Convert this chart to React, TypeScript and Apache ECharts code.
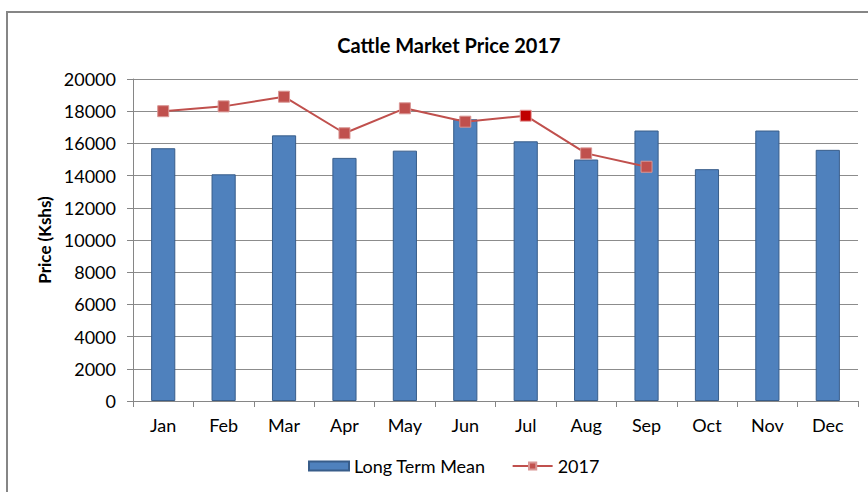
import React, { useEffect, useRef } from "react";
import * as echarts from "echarts";

const months = ["Jan", "Feb", "Mar", "Apr", "May", "Jun", "Jul", "Aug", "Sep", "Oct", "Nov", "Dec"];
const longTermMean = [15700, 14080, 16500, 15100, 15550, 17500, 16130, 15000, 16800, 14400, 16800, 15600];
const price2017 = [18000, 18300, 18900, 16630, 18180, 17350, 17720, 15380, 14550, null, null, null];
const yTicks = { min: 0, max: 20000, interval: 2000 };

export default function App() {
  const ref = useRef<HTMLDivElement>(null);
  useEffect(() => {
    if (!ref.current) return;
    const chart = echarts.init(ref.current, null, { renderer: "svg" });
    const font = "Lato, 'Open Sans', sans-serif";
    chart.setOption({
      animation: false,
      backgroundColor: "#fff",
      textStyle: { fontFamily: font },
      title: {
        text: "Cattle Market Price 2017",
        left: 444,
        textAlign: "center",
        top: 30,
        textStyle: { fontFamily: font, fontSize: 20, fontWeight: "bold", color: "#000" },
      },
      graphic: [
        {
          type: "rect",
          shape: { x: 7, y: 12, width: 900, height: 600 },
          style: { fill: "none", stroke: "#868686", lineWidth: 2 },
          silent: true,
        },
      ],
      legend: {
        bottom: 12,
        left: 303,
        itemGap: 26,
        itemWidth: 40,
        itemHeight: 9,
        textStyle: { fontFamily: font, fontSize: 18, color: "#000" },
        data: [
          { name: "Long Term Mean", icon: "rect" },
          { name: "2017" },
        ],
      },
      grid: { left: 133, right: 10, top: 79, bottom: 91 },
      xAxis: {
        type: "category",
        data: months,
        axisLine: { lineStyle: { color: "#868686" } },
        axisTick: { show: true, length: 6, alignWithLabel: false, lineStyle: { color: "#868686" } },
        axisLabel: { fontFamily: font, fontSize: 18, color: "#000", margin: 15 },
      },
      yAxis: {
        type: "value",
        min: yTicks.min,
        max: yTicks.max,
        interval: yTicks.interval,
        name: "Price (Kshs)",
        nameLocation: "middle",
        nameGap: 79,
        nameRotate: 90,
        nameTextStyle: { fontFamily: font, fontSize: 17, fontWeight: "bold", color: "#000" },
        axisLine: { show: true, lineStyle: { color: "#868686" } },
        axisTick: { show: true, length: 6, lineStyle: { color: "#868686" } },
        axisLabel: { fontFamily: font, fontSize: 18, color: "#000", margin: 17, formatter: (v: number) => String(v) },
        splitLine: { lineStyle: { color: "#8c8c8c", width: 1 } },
      },
      series: [
        {
          name: "Long Term Mean",
          type: "bar",
          data: longTermMean,
          barWidth: "40%",
          itemStyle: { color: "#4F81BD", borderColor: "#385D8A", borderWidth: 1 },
        },
        {
          name: "2017",
          type: "line",
          data: price2017.map((v, i) =>
            i === 6 ? { value: v, itemStyle: { color: "#C00000", borderColor: "#E6A0A0" } } : v
          ),
          symbol: "rect",
          symbolSize: 11,
          lineStyle: { color: "#C0504D", width: 2 },
          itemStyle: { color: "#C0504D", borderColor: "#D99694", borderWidth: 1 },
        },
      ],
    });
    return () => chart.dispose();
  }, []);
  return (
    <div
      ref={ref}
      style={{ position: "absolute", left: 0, top: 0, width: 868, height: 492 }}
    />
  );
}
